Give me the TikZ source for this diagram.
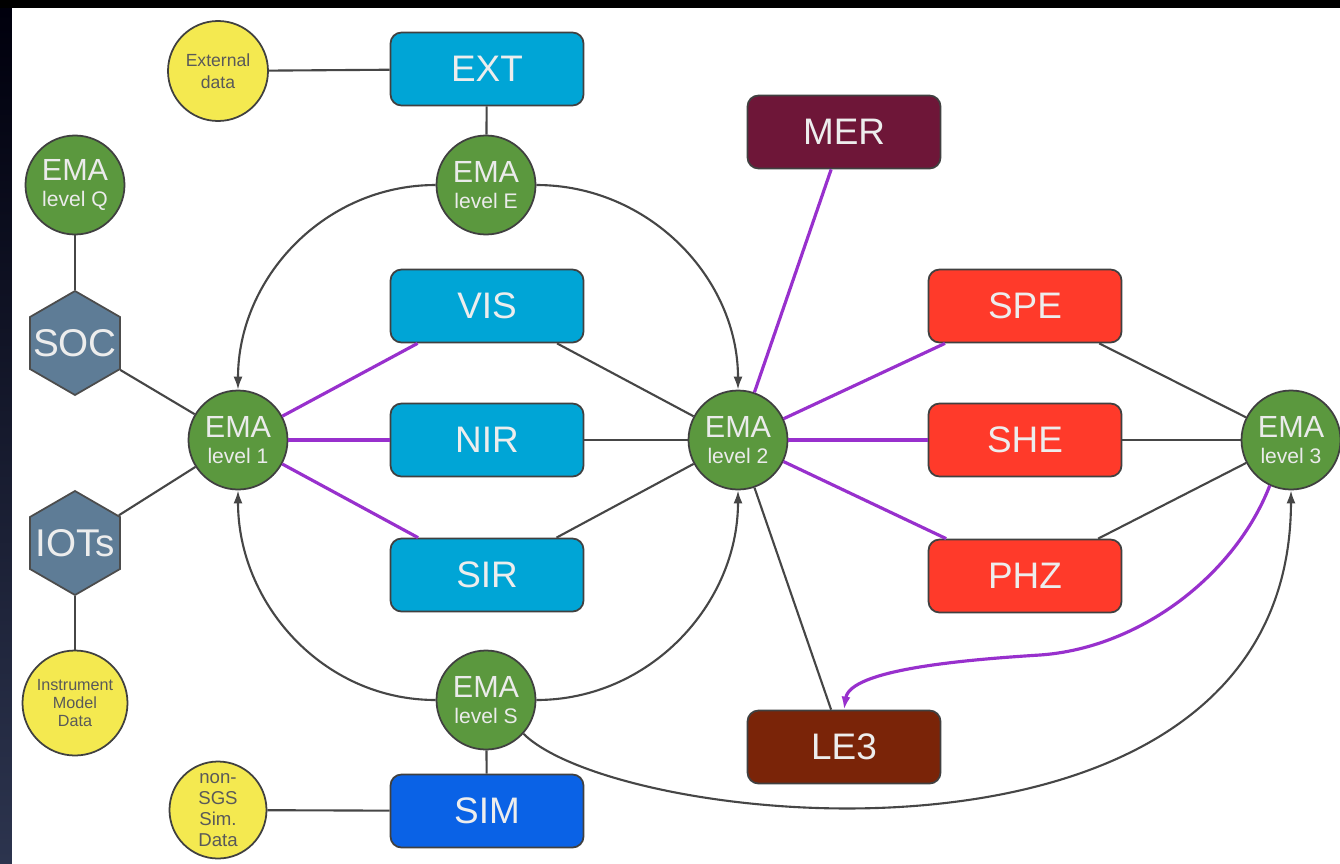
\documentclass[tikz,border=0pt]{standalone}
\usepackage{fontspec}
\setmainfont{Liberation Sans}
\usetikzlibrary{shapes.geometric,arrows.meta}
\definecolor{emagreen}{RGB}{91,152,62}
\definecolor{cyanbox}{RGB}{0,165,214}
\definecolor{simblue}{RGB}{10,98,230}
\definecolor{redbox}{RGB}{255,58,42}
\definecolor{merbox}{RGB}{110,22,56}
\definecolor{lebox}{RGB}{122,36,8}
\definecolor{hexgray}{RGB}{94,124,150}
\definecolor{datayellow}{RGB}{244,233,80}
\definecolor{flowpurple}{RGB}{152,48,205}
\definecolor{linkgray}{RGB}{70,70,70}
\newcommand\emalevel[1]{{\fontsize{8.7}{7.6}\selectfont EMA}\\level #1}
\begin{document}
\begin{tikzpicture}
  [ema/.style={circle,draw=black!75,line width=0.5pt,fill=emagreen,minimum size=0.99cm,
     inner sep=0pt,text=white!92!black,align=center,font=\fontsize{6}{7.6}\selectfont},
   pipe/.style={rectangle,rounded corners=0.11cm,draw=black!75,line width=0.5pt,
     minimum width=1.93cm,minimum height=0.73cm,inner sep=0pt,text=white!93!black,
     font=\fontsize{10.5}{12}\selectfont},
   hexa/.style={regular polygon,regular polygon sides=6,shape border rotate=30,
     minimum size=1.04cm,inner sep=0pt,draw=black!70,line width=0.5pt,fill=hexgray,
     text=white!93!black,font=\fontsize{11}{12}\selectfont},
   datain/.style={circle,draw=black!75,line width=0.5pt,fill=datayellow,inner sep=0pt,
     text=black!65,align=center},
   link/.style={draw=linkgray,line width=0.6pt},
   feed/.style={draw=flowpurple,line width=0.9pt},
   tip/.style={-{Latex[length=1.3mm,width=0.9mm]}}]
  \fill[black] (0,0) rectangle (13.40,-8.63);
  \shade[top color=black!95!blue,bottom color={rgb,255:red,44;green,52;blue,78}]
    (0,-0.08) rectangle (0.12,-8.63);
  \fill[white] (0.12,-0.08) rectangle (13.40,-8.63);
  \useasboundingbox (0,0) rectangle (13.40,-8.63);

  \node[datain,minimum size=1.0cm,font=\fontsize{5}{6.2}\selectfont] (extd) at (2.18,-0.71) {External\\data};
  \node[pipe,fill=cyanbox] (ext) at (4.87,-0.69) {EXT};
  \node[ema] (emaE) at (4.86,-1.85) {\emalevel{E}};
  \node[ema] (emaQ) at (0.75,-1.85) {\emalevel{Q}};
  \node[hexa] (soc) at (0.75,-3.43) {\makebox[0pt]{SOC}};
  \node[hexa] (iots) at (0.75,-5.43) {\makebox[0pt]{IOTs}};
  \node[datain,minimum size=1.05cm,font=\fontsize{4.6}{5.1}\selectfont] (imd) at (0.75,-7.03) {Instrument\\Model\\Data};
  \node[datain,minimum size=0.97cm,font=\fontsize{5.3}{6}\selectfont] (nsgs) at (2.18,-8.10) {non-\\SGS\\Sim.\\Data};
  \node[pipe,fill=simblue] (sim) at (4.87,-8.11) {SIM};
  \node[ema] (emaS) at (4.86,-7.00) {\emalevel{S}};
  \node[ema] (ema1) at (2.38,-4.40) {\emalevel{1}};
  \node[pipe,fill=cyanbox] (vis) at (4.87,-3.06) {VIS};
  \node[pipe,fill=cyanbox] (nir) at (4.87,-4.40) {NIR};
  \node[pipe,fill=cyanbox] (sir) at (4.87,-5.75) {SIR};
  \node[ema] (ema2) at (7.38,-4.40) {\emalevel{2}};
  \node[pipe,fill=merbox] (mer) at (8.44,-1.32) {MER};
  \node[pipe,fill=redbox] (spe) at (10.25,-3.06) {SPE};
  \node[pipe,fill=redbox] (she) at (10.25,-4.40) {SHE};
  \node[pipe,fill=redbox] (phz) at (10.25,-5.76) {PHZ};
  \node[ema] (ema3) at (12.91,-4.40) {\emalevel{3}};
  \node[pipe,fill=lebox] (le3) at (8.44,-7.47) {LE3};

  \draw[link] (extd) -- (ext);
  \draw[link] (ext) -- (emaE);
  \draw[link] (emaQ) -- (soc);
  \draw[link] (soc) -- (ema1);
  \draw[link] (iots) -- (ema1);
  \draw[link] (iots) -- (imd);
  \draw[link] (nsgs) -- (sim);
  \draw[link] (sim) -- (emaS);
  \foreach \unit in {vis,nir,sir}{
    \draw[feed] (ema1) -- (\unit);
    \draw[link] (\unit) -- (ema2);
  }
  \foreach \unit in {spe,she,phz}{
    \draw[feed] (ema2) -- (\unit);
    \draw[link] (\unit) -- (ema3);
  }
  \draw[feed] (ema2) -- (mer);
  \draw[link] (ema2) -- (le3);

  \draw[link,tip] (emaE.west) to[out=180,in=90] (ema1.north);
  \draw[link,tip] (emaE.east) to[out=0,in=90] (ema2.north);
  \draw[link,tip] (emaS.west) to[out=180,in=-90] (ema1.south);
  \draw[link,tip] (emaS.east) to[out=0,in=-90] (ema2.south);
  \draw[link,tip] (emaS.-42) .. controls (6.20,-8.30) and (12.90,-9.00) .. (ema3.south);
  \draw[feed,tip] (ema3.-115) .. controls (12.35,-5.75) and (11.40,-6.48) .. (10.40,-6.55)
    .. controls (9.60,-6.60) and (8.50,-6.70) .. (le3.north);
\end{tikzpicture}
\end{document}
